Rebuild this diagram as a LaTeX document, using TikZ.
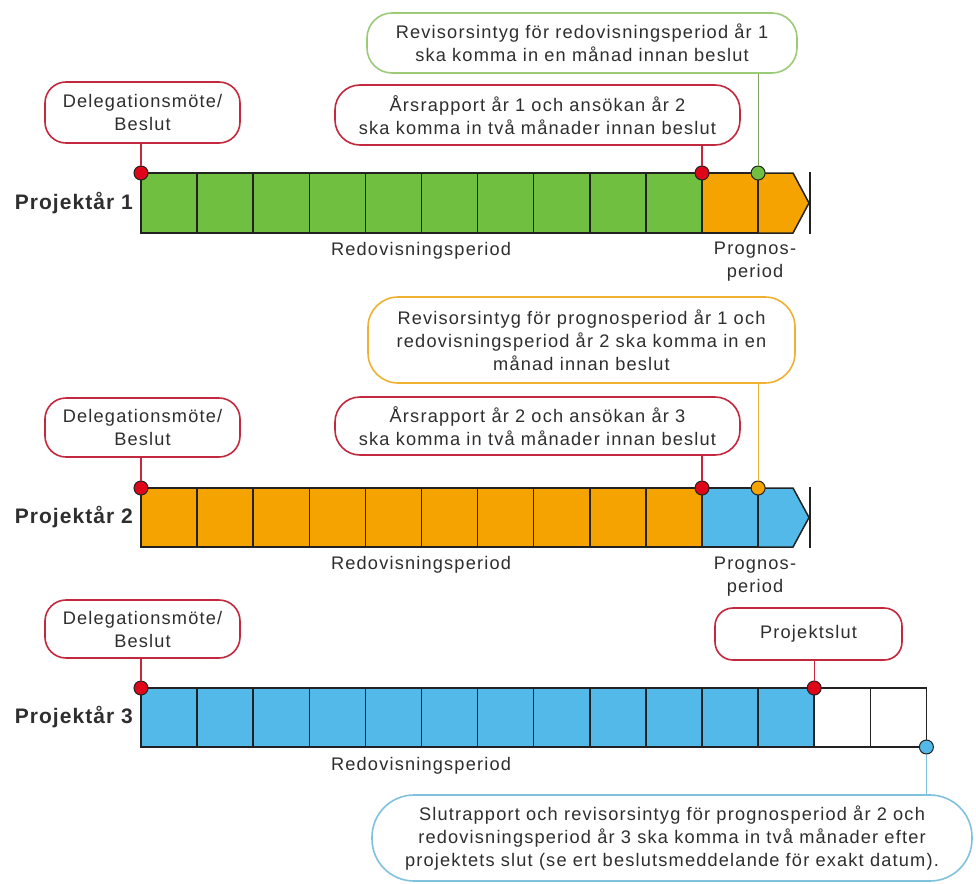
\documentclass[tikz,border=0pt]{standalone}
\usepackage{fontspec}
\setmainfont{Liberation Sans}[LetterSpace=6.5]
\newfontfamily\boldlbl{Liberation Sans}[LetterSpace=5]
\definecolor{cgreen}{HTML}{70BF41}
\definecolor{corange}{HTML}{F5A300}
\definecolor{cblue}{HTML}{52B9E9}
\definecolor{cdot}{HTML}{E0061A}
\definecolor{bred}{HTML}{C4283E}
\definecolor{bgreen}{HTML}{9CCB78}
\definecolor{borange}{HTML}{F0B133}
\definecolor{bblue}{HTML}{80C2DE}
\definecolor{txt}{HTML}{2E2E2E}
\definecolor{edge}{HTML}{222222}
\newcommand\fsz{\fontsize{18.2}{23}\selectfont}
\tikzset{
  callout/.style={draw, line width=1.6pt, fill=white, rounded corners=21pt, align=center,
    inner sep=0pt, font=\fsz, text=txt},
  conn/.style={line width=1.2pt},
  cellbox/.style={draw=edge, line width=1.5pt},
  dotnode/.style={circle, draw=edge, line width=1pt, fill=#1, minimum size=14pt, inner sep=0pt},
  rowlabel/.style={font=\boldlbl\fontsize{21}{25}\selectfont\bfseries, text=txt, anchor=east, inner sep=0pt},
  plabel/.style={font=\fsz, text=txt, align=center, inner sep=0pt}
}
\begin{document}
\begin{tikzpicture}[x=1pt,y=-1pt]
\useasboundingbox[fill=white] (0,0) rectangle (976,883);
% ---------- callouts ----------
\node[callout, draw=bred, minimum width=195pt, minimum height=61pt] (del1) at (142.5,112.5) {Delegationsmöte/\\Beslut};
\node[callout, draw=bred, rounded corners=25pt, minimum width=405pt, minimum height=60pt] (ars1) at (537.5,115) {Årsrapport år 1 och ansökan år 2\\ska komma in två månader innan beslut};
\node[callout, draw=bgreen, rounded corners=25pt, minimum width=430pt, minimum height=60pt] (rev1) at (582,43) {Revisorsintyg för redovisningsperiod år 1\\ska komma in en månad innan beslut};
\node[callout, draw=borange, rounded corners=30pt, minimum width=427pt, minimum height=86pt] (rev2) at (581.5,340) {Revisorsintyg för prognosperiod år 1 och\\redovisningsperiod år 2 ska komma in en\\månad innan beslut};
\node[callout, draw=bred, rounded corners=25pt, minimum width=405pt, minimum height=58pt] (ars2) at (537.5,426) {Årsrapport år 2 och ansökan år 3\\ska komma in två månader innan beslut};
\node[callout, draw=bred, minimum width=195pt, minimum height=59pt] (del2) at (142.5,427.5) {Delegationsmöte/\\Beslut};
\node[callout, draw=bred, minimum width=195pt, minimum height=58pt] (del3) at (142.5,629) {Delegationsmöte/\\Beslut};
\node[callout, draw=bred, rounded corners=18pt, minimum width=187pt, minimum height=52pt] (pslut) at (808.5,634) {Projektslut};
\node[callout, draw=bblue, rounded corners=42pt, minimum width=600pt, minimum height=86pt] (slut) at (672,838) {Slutrapport och revisorsintyg för prognosperiod år 2 och\\redovisningsperiod år 3 ska komma in två månader efter\\projektets slut (se ert beslutsmeddelande för exakt datum).};
% ---------- bars ----------
% row 1
\foreach \i in {0,...,9} \draw[cellbox, fill=cgreen] (141+\i*56.1,173) rectangle ++(56.1,60);
\draw[cellbox, fill=corange] (702,173) rectangle (758.1,233);
\draw[cellbox, fill=corange] (758.1,173) -- (793,173) -- (809,203) -- (793,233) -- (758.1,233) -- cycle;
\draw[edge, line width=1.5pt] (810,172) -- (810,234);
% row 2
\foreach \i in {0,...,9} \draw[cellbox, fill=corange] (141+\i*56.1,488) rectangle ++(56.1,59);
\draw[cellbox, fill=cblue] (702,488) rectangle (758.1,547);
\draw[cellbox, fill=cblue] (758.1,488) -- (793,488) -- (809,517.5) -- (793,547) -- (758.1,547) -- cycle;
\draw[edge, line width=1.5pt] (810,487) -- (810,548);
% row 3
\foreach \i in {0,...,11} \draw[cellbox, fill=cblue] (141+\i*56.1,688) rectangle ++(56.1,59);
\foreach \i in {12,13} \draw[cellbox, fill=white] (141+\i*56.1,688) rectangle ++(56.1,59);
% ---------- dots ----------
\node[dotnode=cdot] (r1a) at (141,173) {};
\node[dotnode=cdot] (r1b) at (702,173) {};
\node[dotnode=cgreen] (g1) at (758.1,173) {};
\node[dotnode=cdot] (r2a) at (141,488) {};
\node[dotnode=cdot] (r2b) at (702,488) {};
\node[dotnode=corange] (o2) at (758.1,488) {};
\node[dotnode=cdot] (r3a) at (141,688) {};
\node[dotnode=cdot] (r3b) at (814.2,688) {};
\node[dotnode=cblue] (b3) at (926.4,747) {};
% ---------- connectors ----------
\draw[conn, bred] (del1.south -| r1a) -- (r1a.north);
\draw[conn, bred] (ars1.south -| r1b) -- (r1b.north);
\draw[conn, bgreen!80!black] (rev1.south -| g1) -- (g1.north);
\draw[conn, bred] (del2.south -| r2a) -- (r2a.north);
\draw[conn, bred] (ars2.south -| r2b) -- (r2b.north);
\draw[conn, borange] (rev2.south -| o2) -- (o2.north);
\draw[conn, bred] (del3.south -| r3a) -- (r3a.north);
\draw[conn, bred] (pslut.south -| r3b) -- (r3b.north);
\draw[conn, bblue] (b3.south) -- (slut.north -| b3);
% ---------- labels ----------
\node[rowlabel] (p1) at (133,203) {Projektår 1};
\node[rowlabel] (p2) at (133,517) {Projektår 2};
\node[rowlabel] (p3) at (133,717) {Projektår 3};
\node[plabel] (red1) at (421,251) {Redovisningsperiod};
\node[plabel] (red2) at (421,565) {Redovisningsperiod};
\node[plabel] (red3) at (421,766) {Redovisningsperiod};
\node[plabel] (pr1) at (755,262) {Prognos-\\period};
\node[plabel] (pr2) at (755,577) {Prognos-\\period};
\end{tikzpicture}
\end{document}
